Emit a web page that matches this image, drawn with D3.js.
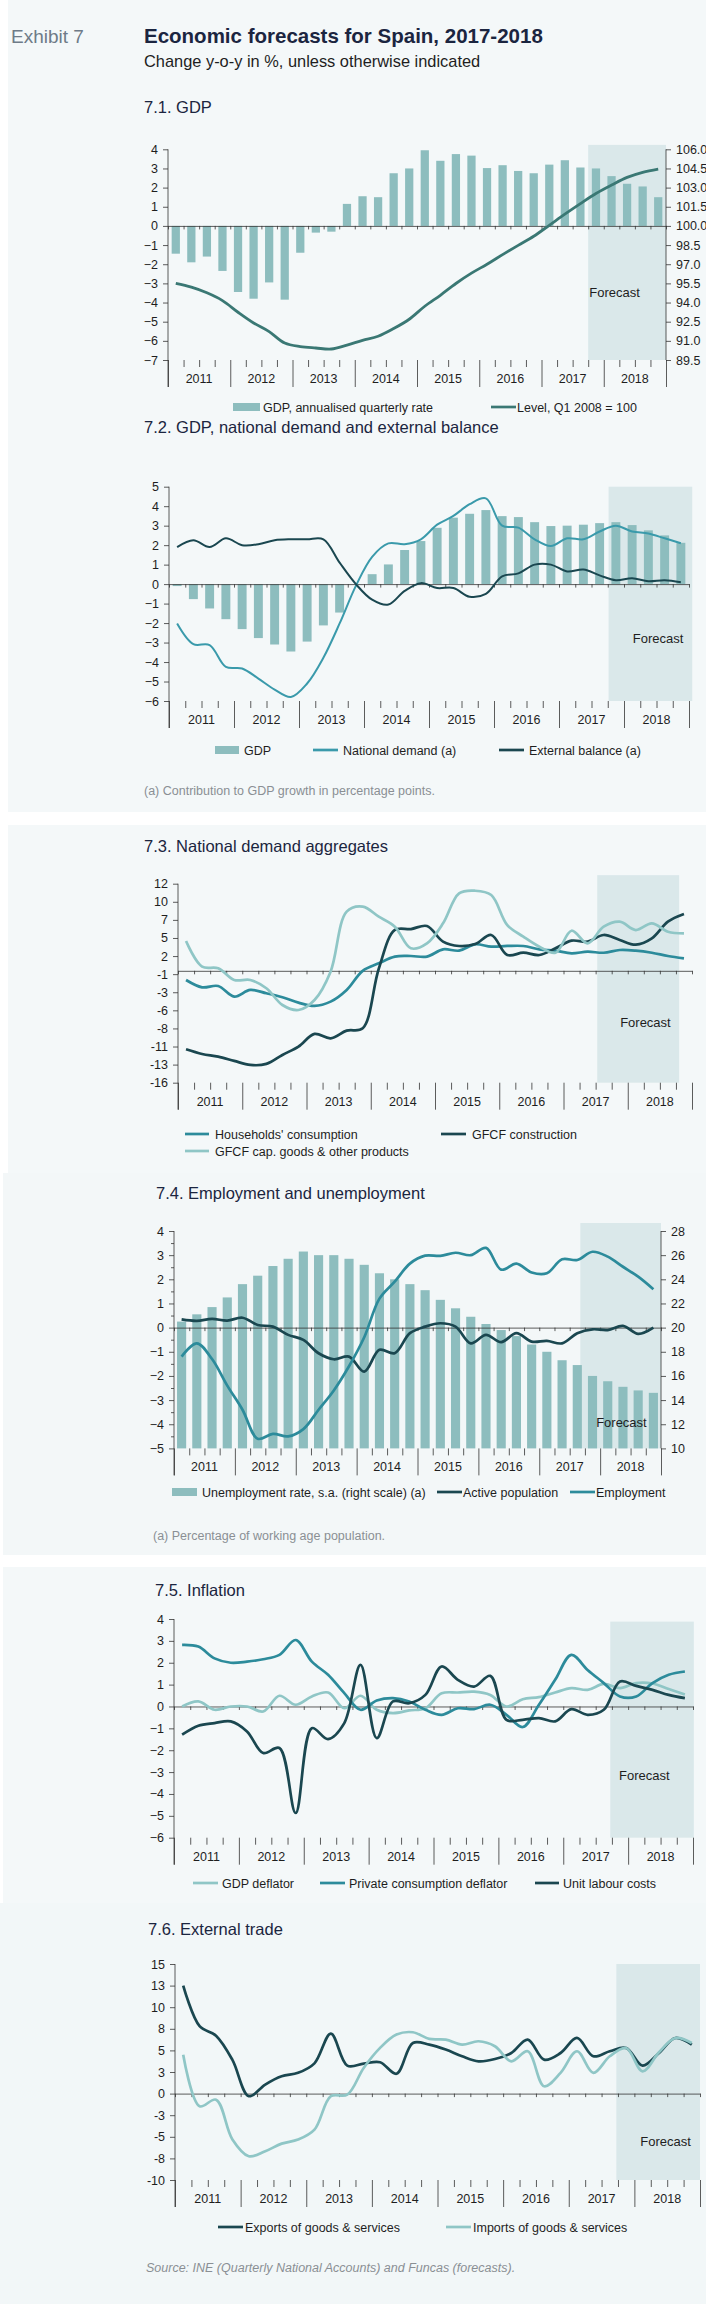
<!DOCTYPE html>
<html lang="en">
<head>
<meta charset="UTF-8" />
<script src="https://d3js.org/d3.v7.min.js"></script>
<title>Economic forecasts for Spain, 2017-2018</title>
<style>
  body { margin: 0; background: #fff; }
  svg { display: block; font-family: "Liberation Sans", Arial, sans-serif; }
  .tick text { font-size: 12.5px; fill: #1e1e1e; }
  .tick line, .domain { stroke: #333; stroke-width: 0.8; }
  .year { font-size: 12.5px; fill: #1e1e1e; text-anchor: middle; }
  .legend { font-size: 12.5px; fill: #1e1e1e; }
  .panel-title { font-size: 16.5px; fill: #1b2540; }
  .note { font-size: 12.5px; fill: #8a8f94; }
  .forecast { font-size: 13px; fill: #1e1e1e; text-anchor: middle; }
</style>
</head>
<body>
<svg id="chart" width="706" height="2304"></svg>
<script>
// ---- categories ----
const years = ["2011", "2012", "2013", "2014", "2015", "2016", "2017", "2018"];
const quarters = years.flatMap((y) => ["Q1", "Q2", "Q3", "Q4"].map((q) => y + q));

// ---- 7.1 GDP ----
const gdpAnnualised = [-1.45, -1.9, -1.6, -2.35, -3.45, -3.8, -2.95, -3.85,
  -1.4, -0.35, -0.3, 1.15, 1.55, 1.5, 2.75, 3.0,
  3.95, 3.4, 3.75, 3.67, 3.02, 3.17, 2.87, 2.75,
  3.2, 3.43, 3.05, 3.0, 2.6, 2.2, 2.06, 1.5];
const gdpLevel = [95.5, 95.2, 94.76, 94.15, 93.24, 92.4, 91.72, 90.83,
  90.55, 90.44, 90.36, 90.67, 91.04, 91.36, 91.96, 92.69,
  93.71, 94.57, 95.49, 96.3, 97.0, 97.75, 98.48, 99.19,
  100.05, 100.92, 101.75, 102.54, 103.2, 103.8, 104.2, 104.45];
const gdpTicks = [4, 3, 2, 1, 0, -1, -2, -3, -4, -5, -6, -7];
const levelTicks = [106, 104.5, 103, 101.5, 100, 98.5, 97, 95.5, 94, 92.5, 91, 89.5];

// ---- 7.2 GDP, national demand and external balance ----
const gdpYoY = [-0.1, -0.77, -1.25, -1.8, -2.31, -2.77, -3.1, -3.46,
  -2.95, -2.12, -1.46, 0.0, 0.51, 1.01, 1.75, 2.21,
  2.89, 3.41, 3.61, 3.8, 3.49, 3.44, 3.18, 2.98,
  3.0, 3.05, 3.13, 3.18, 3.03, 2.76, 2.5, 2.12];
const nationalDemand = [-2.02, -3.08, -3.13, -4.25, -4.33, -4.85, -5.41, -5.79,
  -5.1, -3.78, -2.02, -0.09, 1.4, 2.09, 2.05, 2.3,
  3.05, 3.5, 4.1, 4.4, 3.0, 2.9, 2.3, 1.95,
  2.35, 2.3, 2.7, 3.0, 2.7, 2.6, 2.35, 2.1];
const externalBalance = [1.9, 2.25, 1.9, 2.35, 2.0, 2.05, 2.25, 2.3,
  2.3, 2.3, 1.1, 0.0, -0.8, -1.05, -0.35, 0.05,
  -0.2, -0.2, -0.65, -0.5, 0.4, 0.55, 1.0, 1.0,
  0.65, 0.75, 0.45, 0.2, 0.3, 0.15, 0.2, 0.1];
const demandTicks = [5, 4, 3, 2, 1, 0, -1, -2, -3, -4, -5, -6];

// ---- 7.3 National demand aggregates ----
const householdsConsumption = [-1.32, -2.37, -2.18, -3.71, -2.75, -3.23, -3.8, -4.57,
  -5.05, -4.43, -2.75, 0.0, 1.08, 2.04, 2.13, 2.04,
  3.09, 2.9, 3.81, 3.47, 3.57, 3.57, 3.09, 2.9,
  2.51, 2.75, 2.6, 2.99, 2.9, 2.6, 2.13, 1.79];
const gfcfConstruction = [-11.28, -11.95, -12.33, -12.95, -13.53, -13.38, -12.09, -10.89,
  -9.07, -9.7, -8.6, -8.26, 0.3, 5.87, 6.0, 6.44,
  4.19, 3.57, 3.85, 5.15, 2.27, 2.6, 2.27, 3.23,
  4.33, 4.19, 5.15, 4.43, 3.76, 4.67, 7.06, 8.16];
const gfcfCapGoods = [4.28, 0.6, 0.36, -1.32, -1.32, -2.51, -4.91, -5.63,
  -4.19, -0.12, 8.5, 9.22, 7.78, 6.34, 3.23, 3.95,
  6.82, 11.13, 11.51, 10.89, 6.58, 4.91, 3.47, 2.6,
  5.76, 3.95, 6.34, 7.06, 5.86, 6.82, 5.62, 5.39];
const aggregatesTickLabels = ["12", "10", "7", "5", "2", "-1", "-3", "-6", "-8", "-11", "-13", "-16"];

// ---- 7.4 Employment and unemployment ----
const unemploymentRate = [20.5, 21.1, 21.7, 22.5, 23.6, 24.3, 25.1, 25.7,
  26.3, 26.0, 26.0, 25.7, 25.2, 24.5, 24.0, 23.6,
  23.1, 22.3, 21.6, 20.9, 20.3, 19.8, 19.3, 18.6,
  18.0, 17.3, 16.9, 16.0, 15.56, 15.1, 14.8, 14.6];
const activePopulation = [0.34, 0.28, 0.36, 0.29, 0.41, 0.11, 0.04, -0.3,
  -0.51, -1.06, -1.31, -1.2, -1.82, -0.92, -1.06, -0.23,
  0.04, 0.18, 0.04, -0.65, -0.3, -0.6, -0.23, -0.58,
  -0.55, -0.65, -0.23, -0.07, -0.1, 0.07, -0.26, 0.0];
const employment = [-1.2, -0.65, -1.3, -2.4, -3.4, -4.6, -4.4, -4.5,
  -4.2, -3.4, -2.6, -1.6, -0.4, 1.2, 1.9, 2.65,
  2.98, 2.97, 3.1, 3.0, 3.3, 2.4, 2.65, 2.28,
  2.25, 2.83, 2.8, 3.14, 2.94, 2.52, 2.11, 1.59];
const employmentTicks = [4, 3, 2, 1, 0, -1, -2, -3, -4, -5];
const unemploymentTicks = [28, 26, 24, 22, 20, 18, 16, 14, 12, 10];

// ---- 7.5 Inflation ----
const gdpDeflator = [0.0, 0.23, -0.15, 0.0, 0.0, -0.23, 0.49, 0.08,
  0.46, 0.64, -0.08, 0.49, -0.15, -0.3, -0.18, -0.08,
  0.6, 0.64, 0.68, 0.53, 0.0, 0.33, 0.43, 0.64,
  0.84, 0.76, 1.03, 0.84, 1.07, 1.05, 0.8, 0.55];
const consumptionDeflator = [2.82, 2.74, 2.2, 2.0, 2.05, 2.16, 2.36, 3.04,
  2.05, 1.45, 0.61, -0.15, 0.27, 0.38, 0.23, -0.15,
  -0.38, -0.08, -0.12, 0.08, -0.38, -0.94, 0.08, 1.22,
  2.36, 1.67, 1.07, 0.46, 0.46, 1.07, 1.45, 1.6];
const unitLabourCosts = [-1.29, -0.88, -0.76, -0.68, -1.14, -2.13, -1.9, -4.87,
  -0.99, -1.49, -0.76, 1.9, -1.45, 0.23, 0.15, 0.53,
  1.83, 1.22, 0.91, 1.4, -0.61, -0.61, -0.53, -0.68,
  -0.12, -0.38, -0.15, 1.14, 0.94, 0.76, 0.53, 0.38];
const inflationTicks = [4, 3, 2, 1, 0, -1, -2, -3, -4, -5, -6];

// ---- 7.6 External trade ----
const exportsGS = [12.5, 7.8, 6.7, 3.9, -0.3, 1.04, 2.0, 2.4,
  3.5, 6.94, 3.24, 3.47, 3.63, 2.3, 5.86, 5.67,
  5.1, 4.32, 3.74, 4.0, 4.7, 6.25, 3.93, 4.7,
  6.44, 4.32, 4.9, 5.28, 3.24, 4.7, 6.44, 5.67];
const importsGS = [4.5, -1.47, -0.7, -5.3, -7.25, -6.67, -5.79, -5.32,
  -4.17, -0.3, -0.12, 2.97, 5.29, 6.83, 7.1, 6.33,
  6.25, 5.67, 6.06, 5.48, 3.74, 4.9, 0.85, 2.4,
  4.9, 2.4, 4.32, 5.28, 2.58, 4.78, 6.44, 5.86];
const tradeTicks = [15, 12.5, 10, 7.5, 5, 2.5, 0, -2.5, -5, -7.5, -10];

// ---- colours ----
const C = {
  bar: "#8dbdbe",
  shade: "#dae8ea",
  level: "#3a7874",
  dark: "#1a4750",
  mid: "#2c8b9b",
  light: "#8fc6c6",
  demand: "#3a9aab",
};

const svg = d3.select("#chart");

// panel backgrounds
const panels = [
  { x: 8, y: 0, w: 698, h: 812, c: "#f4f8f9" },
  { x: 8, y: 825, w: 698, h: 348, c: "#f4f8f9" },
  { x: 3, y: 1173, w: 703, h: 382, c: "#f3f7f8" },
  { x: 3, y: 1567, w: 703, h: 336, c: "#f4f8f9" },
  { x: 0, y: 1903, w: 706, h: 401, c: "#f2f7f8" },
];
svg.selectAll("rect.panel").data(panels).join("rect")
  .attr("class", "panel")
  .attr("x", (d) => d.x).attr("y", (d) => d.y)
  .attr("width", (d) => d.w).attr("height", (d) => d.h)
  .attr("fill", (d) => d.c);

// header
svg.append("text").attr("x", 11).attr("y", 43)
  .style("font-size", "19px").style("fill", "#6e7b88").text("Exhibit 7");
svg.append("text").attr("x", 144).attr("y", 43)
  .style("font-size", "20.5px").style("font-weight", "bold").style("fill", "#1b2540")
  .text("Economic forecasts for Spain, 2017-2018");
svg.append("text").attr("x", 144).attr("y", 67)
  .style("font-size", "16.4px").style("fill", "#1e1e1e")
  .text("Change y-o-y in %, unless otherwise indicated");

const smooth = d3.curveCatmullRom.alpha(0.5);

function drawPanel(p) {
  const g = svg.append("g");
  const band = d3.scaleBand().domain(quarters).range([p.x0, p.x1]);
  const xq = d3.scaleLinear().domain([0, quarters.length]).range([p.x0, p.x1]);
  const y = d3.scaleLinear().domain(p.yDomain).range(p.yRange);
  const yR = p.rightDomain ? d3.scaleLinear().domain(p.rightDomain).range(p.yRange) : null;
  const cx = (i) => band(quarters[i]) + band.bandwidth() / 2;
  const bottom = p.yRange[0];
  const top = p.yRange[1];

  g.append("text").attr("class", "panel-title")
    .attr("x", p.titleX).attr("y", p.titleY).text(p.title);

  // forecast shading
  g.append("rect")
    .attr("x", xq(p.shade[0])).attr("width", xq(p.shade[1]) - xq(p.shade[0]))
    .attr("y", y(p.shade[2])).attr("height", bottom - y(p.shade[2]))
    .attr("fill", C.shade);

  // bars
  (p.bars || []).forEach((b) => {
    const w = band.bandwidth() * b.width;
    const sc = b.right ? yR : y;
    const base = b.right ? p.rightDomain[0] : 0;
    g.append("g").selectAll("rect").data(b.values).join("rect")
      .attr("x", (d, i) => cx(i) - w / 2)
      .attr("width", w)
      .attr("y", (d) => sc(Math.max(d, base)))
      .attr("height", (d) => Math.abs(sc(d) - sc(base)))
      .attr("fill", b.color);
  });

  // zero line with quarter ticks
  g.append("g")
    .attr("transform", `translate(0,${y(0)})`)
    .call(d3.axisBottom(xq).tickValues(d3.range(0, 33)).tickSize(3.5).tickSizeOuter(0).tickFormat(""));

  // lines
  (p.lines || []).forEach((l) => {
    const sc = l.right ? yR : y;
    g.append("path")
      .datum(l.values)
      .attr("fill", "none")
      .attr("stroke", l.color)
      .attr("stroke-width", l.width || 2.7)
      .attr("stroke-linejoin", "round")
      .attr("d", d3.line().x((d, i) => cx(i)).y((d) => sc(d)).curve(smooth));
  });

  g.append("text").attr("class", "forecast")
    .attr("x", xq(p.forecastAt[0])).attr("y", y(p.forecastAt[1])).attr("dy", "0.35em")
    .text("Forecast");

  // left axis
  const left = g.append("g").attr("transform", `translate(${p.x0},0)`);
  if (p.minor) {
    left.append("g")
      .call(d3.axisLeft(y).tickValues(p.minor).tickSize(3).tickFormat(""))
      .call((a) => a.select(".domain").remove());
  }
  left.append("g")
    .call(d3.axisLeft(y).tickValues(p.leftTicks).tickSize(5).tickPadding(5)
      .tickFormat((d, i) => (p.leftLabels ? p.leftLabels[i] : p.leftFormat(d))))
    .call((a) => a.select(".domain").remove());
  left.append("line").attr("y1", top).attr("y2", bottom + 27)
    .attr("stroke", "#333").attr("stroke-width", 0.8);

  // right axis
  if (p.rightTicks) {
    const right = g.append("g").attr("transform", `translate(${p.x1},0)`);
    right.append("g")
      .call(d3.axisRight(yR).tickValues(p.rightTicks).tickSize(5).tickPadding(5).tickFormat(p.rightFormat))
      .call((a) => a.select(".domain").remove());
    right.append("line").attr("y1", top).attr("y2", bottom)
      .attr("stroke", "#333").attr("stroke-width", 0.8);
  }

  // quarter ticks and year separators under the plot
  const qTicks = d3.range(1, 32).filter((i) => i % 4 !== 0);
  g.append("g").attr("transform", `translate(0,${bottom})`)
    .call(d3.axisBottom(xq).tickValues(qTicks).tickSize(7).tickFormat(""))
    .call((a) => a.select(".domain").remove());
  g.append("g").attr("transform", `translate(0,${bottom})`)
    .call(d3.axisBottom(xq).tickValues(d3.range(0, 33, 4)).tickSize(27).tickFormat(""))
    .call((a) => a.select(".domain").remove());
  g.selectAll("text.year").data(years).join("text")
    .attr("class", "year")
    .attr("x", (d, i) => xq(i * 4 + 2))
    .attr("y", bottom + 23)
    .text((d) => d);

  // legend
  p.legend.forEach((it) => {
    if (it.type === "bar") {
      g.append("rect").attr("x", it.x).attr("y", it.y - 4).attr("width", it.w).attr("height", 8)
        .attr("fill", it.color);
    } else {
      g.append("line").attr("x1", it.x).attr("x2", it.x + it.w)
        .attr("y1", it.y).attr("y2", it.y)
        .attr("stroke", it.color).attr("stroke-width", 2.7);
    }
    g.append("text").attr("class", "legend")
      .attr("x", it.tx).attr("y", it.y).attr("dy", "0.36em").text(it.label);
  });

  if (p.note) {
    g.append("text").attr("class", "note")
      .attr("x", p.note.x).attr("y", p.note.y)
      .style("font-style", p.note.italic ? "italic" : "normal")
      .text(p.note.text);
  }
}

const intFmt = (d) => d3.format("d")(d);
const roundAway = (d) => String(Math.sign(d) * Math.round(Math.abs(d)));

// 7.1
drawPanel({
  title: "7.1. GDP", titleX: 144, titleY: 113,
  x0: 168, x1: 666, yDomain: [-7, 4], yRange: [360, 149.3],
  rightDomain: [89.5, 106],
  leftTicks: gdpTicks, leftFormat: intFmt,
  rightTicks: levelTicks, rightFormat: d3.format(".1f"),
  shade: [27, 32, 4.23], forecastAt: [28.7, -3.45],
  bars: [{ values: gdpAnnualised, color: C.bar, width: 0.53 }],
  lines: [{ values: gdpLevel, color: C.level, right: true, width: 2.8 }],
  legend: [
    { type: "bar", x: 233, w: 27, y: 407, color: C.bar, tx: 263, label: "GDP, annualised quarterly rate" },
    { type: "line", x: 491, w: 25, y: 407, color: C.level, tx: 517, label: "Level, Q1 2008 = 100" },
  ],
});

// 7.2
drawPanel({
  title: "7.2. GDP, national demand and external balance", titleX: 144, titleY: 433,
  x0: 169, x1: 689, yDomain: [-6, 5], yRange: [701, 486.7],
  leftTicks: demandTicks, leftFormat: intFmt,
  shade: [27.05, 32.2, 5], forecastAt: [30.1, -2.77],
  bars: [{ values: gdpYoY, color: C.bar, width: 0.55 }],
  lines: [
    { values: nationalDemand, color: C.demand, width: 2 },
    { values: externalBalance, color: C.dark, width: 2 },
  ],
  legend: [
    { type: "bar", x: 215, w: 24, y: 750, color: C.bar, tx: 244, label: "GDP" },
    { type: "line", x: 313, w: 25, y: 750, color: C.demand, tx: 343, label: "National demand (a)" },
    { type: "line", x: 499, w: 25, y: 750, color: C.dark, tx: 529, label: "External balance (a)" },
  ],
  note: { x: 144, y: 795, text: "(a) Contribution to GDP growth in percentage points." },
});

// 7.3
const aggDomain = [-16.08, 12.52];
drawPanel({
  title: "7.3. National demand aggregates", titleX: 144, titleY: 852,
  x0: 178, x1: 692, yDomain: aggDomain, yRange: [1082.7, 883.7],
  leftTicks: d3.range(11, -1, -1).map((i) => aggDomain[0] + i * (aggDomain[1] - aggDomain[0]) / 11),
  leftLabels: aggregatesTickLabels,
  shade: [26.1, 31.2, 13.75], forecastAt: [29.1, -7.36],
  lines: [
    { values: householdsConsumption, color: C.mid },
    { values: gfcfConstruction, color: C.dark },
    { values: gfcfCapGoods, color: C.light },
  ],
  legend: [
    { type: "line", x: 185, w: 24, y: 1134, color: C.mid, tx: 215, label: "Households' consumption" },
    { type: "line", x: 441, w: 25, y: 1134, color: C.dark, tx: 472, label: "GFCF construction" },
    { type: "line", x: 185, w: 24, y: 1151, color: C.light, tx: 215, label: "GFCF cap. goods & other products" },
  ],
});

// 7.4
drawPanel({
  title: "7.4. Employment and unemployment", titleX: 156, titleY: 1199,
  x0: 174, x1: 661, yDomain: [-5, 4], yRange: [1448.4, 1231],
  rightDomain: [10, 28],
  leftTicks: employmentTicks, leftFormat: intFmt,
  minor: d3.range(-4.5, 4, 1),
  rightTicks: unemploymentTicks, rightFormat: intFmt,
  shade: [26.7, 32, 4.33], forecastAt: [29.4, -3.93],
  bars: [{ values: unemploymentRate, color: C.bar, width: 0.6, right: true }],
  lines: [
    { values: activePopulation, color: C.dark },
    { values: employment, color: C.mid },
  ],
  legend: [
    { type: "bar", x: 172, w: 25, y: 1492, color: C.bar, tx: 202, label: "Unemployment rate, s.a. (right scale) (a)" },
    { type: "line", x: 437, w: 25, y: 1492, color: C.dark, tx: 463, label: "Active population" },
    { type: "line", x: 570, w: 25, y: 1492, color: C.mid, tx: 596, label: "Employment" },
  ],
  note: { x: 153, y: 1540, text: "(a) Percentage of working age population." },
});

// 7.5
drawPanel({
  title: "7.5. Inflation", titleX: 155, titleY: 1596,
  x0: 174, x1: 693, yDomain: [-6, 4], yRange: [1837.7, 1619],
  leftTicks: inflationTicks, leftFormat: intFmt,
  shade: [26.9, 32.05, 3.88], forecastAt: [29.0, -3.16],
  lines: [
    { values: gdpDeflator, color: C.light },
    { values: consumptionDeflator, color: C.mid },
    { values: unitLabourCosts, color: C.dark },
  ],
  legend: [
    { type: "line", x: 193, w: 25, y: 1883, color: C.light, tx: 222, label: "GDP deflator" },
    { type: "line", x: 320, w: 25, y: 1883, color: C.mid, tx: 349, label: "Private consumption deflator" },
    { type: "line", x: 535, w: 24, y: 1883, color: C.dark, tx: 563, label: "Unit labour costs" },
  ],
});

// 7.6
drawPanel({
  title: "7.6. External trade", titleX: 148, titleY: 1935,
  x0: 175, x1: 700, yDomain: [-10, 15], yRange: [2180, 1964],
  leftTicks: tradeTicks, leftFormat: roundAway,
  shade: [26.9, 32, 15], forecastAt: [29.9, -5.53],
  lines: [
    { values: exportsGS, color: C.dark },
    { values: importsGS, color: C.light },
  ],
  legend: [
    { type: "line", x: 218, w: 25, y: 2227, color: C.dark, tx: 245, label: "Exports of goods & services" },
    { type: "line", x: 446, w: 25, y: 2227, color: C.light, tx: 473, label: "Imports of goods & services" },
  ],
  note: { x: 146, y: 2272, italic: true, text: "Source: INE (Quarterly National Accounts) and Funcas (forecasts)." },
});
</script>
</body>
</html>
